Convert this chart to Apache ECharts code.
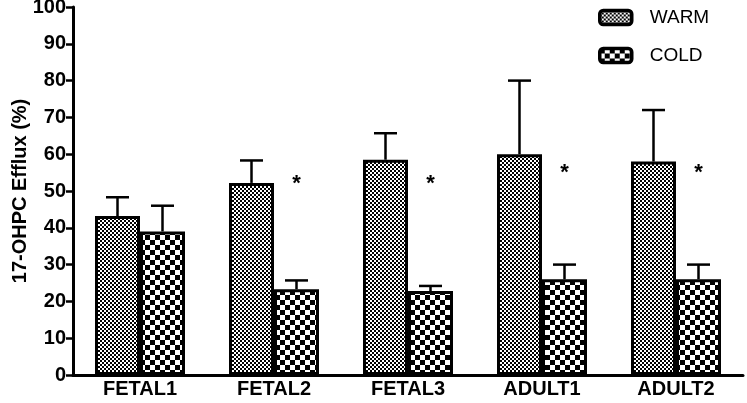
<!DOCTYPE html>
<html>
<head>
<meta charset="utf-8">
<script src="https://cdn.jsdelivr.net/npm/echarts@6/dist/echarts.min.js"></script>
<style>html,body{margin:0;padding:0;background:#fff;}#c{width:747px;height:403px;}</style>
</head>
<body>
<div id="c"></div>
<script>
const categories = ['FETAL1', 'FETAL2', 'FETAL3', 'ADULT1', 'ADULT2'];
const warmValues = [43.2, 52.2, 58.5, 60, 58];
const warmErrTop = [48.3, 58.3, 65.7, 80, 72];
const coldValues = [39, 23.3, 22.8, 26, 26];
const coldErrTop = [46, 25.7, 24.2, 30, 30];
const starCategories = ['FETAL2', 'FETAL3', 'ADULT1', 'ADULT2'];
const starValues = [51.8, 51.8, 55, 55];
const yTicks = [0, 10, 20, 30, 40, 50, 60, 70, 80, 90, 100];

const BAR_W = 45;
const FONT = 'Liberation Sans, Arial, sans-serif';

function makePattern(size, cell) {
  const cv = document.createElement('canvas');
  cv.width = size; cv.height = size;
  const ctx = cv.getContext('2d');
  ctx.fillStyle = '#fff'; ctx.fillRect(0, 0, size, size);
  ctx.fillStyle = '#000';
  ctx.fillRect(0, 0, cell, cell);
  ctx.fillRect(cell, cell, cell, cell);
  return cv;
}
const warmPattern = { image: makePattern(4, 2), repeat: 'repeat' };
const coldPattern = { image: makePattern(10, 5), repeat: 'repeat' };

function errSeries(name, vals, tops, sign) {
  return {
    type: 'custom',
    name: name + '_err',
    z: 1,
    silent: true,
    data: categories.map((c, i) => [i, vals[i], tops[i]]),
    renderItem: function (params, api) {
      const i = api.value(0);
      const base = api.coord([i, api.value(1)]);
      const top = api.coord([i, api.value(2)]);
      const x = base[0] + sign * BAR_W / 2;
      const half = 11.5;
      return {
        type: 'group',
        children: [
          { type: 'line', shape: { x1: x, y1: base[1], x2: x, y2: top[1] }, style: { stroke: '#000', lineWidth: 2.5 } },
          { type: 'line', shape: { x1: x - half, y1: top[1], x2: x + half, y2: top[1] }, style: { stroke: '#000', lineWidth: 2.5 } }
        ]
      };
    }
  };
}

const chart = echarts.init(document.getElementById('c'));
chart.setOption({
  animation: false,
  backgroundColor: '#fff',
  grid: { left: 73, right: 4, top: 7, bottom: 28, containLabel: false, outerBoundsMode: 'none' },
  legend: {
    orient: 'vertical',
    left: 598, top: 8, padding: 0,
    itemWidth: 32, itemHeight: 14, itemGap: 19,
    icon: 'roundRect',
    data: ['WARM', 'COLD'],
    itemStyle: { borderColor: '#000', borderWidth: 3.5 },
    textStyle: { fontFamily: FONT, fontSize: 19, color: '#000', padding: [0, 0, 0, 13] },
    selectedMode: false
  },
  xAxis: {
    type: 'category',
    data: categories,
    axisLine: { lineStyle: { color: '#000', width: 3 } },
    axisTick: { alignWithLabel: true, length: 7, lineStyle: { color: '#000', width: 2.5 } },
    axisLabel: { fontFamily: FONT, fontWeight: 'bold', fontSize: 20, color: '#000', margin: 4 }
  },
  yAxis: {
    type: 'value',
    min: yTicks[0], max: yTicks[yTicks.length - 1], interval: 10,
    name: '17-OHPC Efflux (%)',
    nameLocation: 'middle', nameGap: 43, nameMoveOverlap: false,
    nameTextStyle: { fontFamily: FONT, fontWeight: 'bold', fontSize: 20, color: '#000' },
    axisLine: { show: true, lineStyle: { color: '#000', width: 3 } },
    axisTick: { show: true, length: 7, lineStyle: { color: '#000', width: 2.5 } },
    axisLabel: { fontFamily: FONT, fontWeight: 'bold', fontSize: 20, color: '#000', margin: 7 },
    splitLine: { show: false }
  },
  series: [
    errSeries('WARM', warmValues, warmErrTop, -1),
    errSeries('COLD', coldValues, coldErrTop, 1),
    {
      type: 'bar', name: 'WARM', data: warmValues, barWidth: BAR_W, barGap: '0%', z: 2,
      itemStyle: { color: warmPattern, borderColor: '#000', borderWidth: 3 }
    },
    {
      type: 'bar', name: 'COLD', data: coldValues, barWidth: BAR_W, barGap: '0%', z: 2,
      itemStyle: { color: coldPattern, borderColor: '#000', borderWidth: 3 }
    },
    {
      type: 'custom', name: 'stars', silent: true, z: 3,
      data: starCategories.map((c, i) => [categories.indexOf(c), starValues[i]]),
      renderItem: function (params, api) {
        const p = api.coord([api.value(0), api.value(1)]);
        return { type: 'text', x: p[0] + BAR_W / 2, y: p[1], style: { text: '*', fontFamily: FONT, fontWeight: 'bold', fontSize: 22, fill: '#000', align: 'center', verticalAlign: 'middle' } };
      }
    }
  ]
});
</script>
</body>
</html>
